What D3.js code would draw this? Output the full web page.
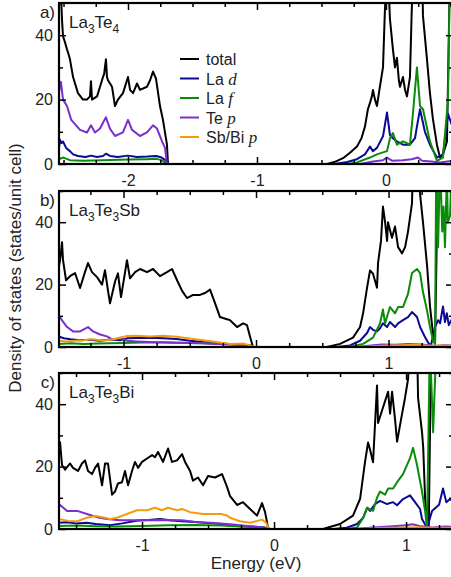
<!DOCTYPE html>
<html>
<head>
<meta charset="utf-8">
<script src="https://cdn.jsdelivr.net/npm/d3@7"></script>
<style>
body { margin: 0; background: #fff; }
text { font-family: "Liberation Sans", Arial, sans-serif; fill: #222; }
</style>
</head>
<body>
<div id="chart"></div>
<script>
// canvas
const WIDTH = 451;
const HEIGHT = 577;
const LEFT = 59;
const RIGHT = 452;

// series names / colours
const SERIES = ["total", "Lad", "Laf", "Tep", "Xp"];
const COLORS = {total: "#000000", Lad: "#0a0a96", Laf: "#0a8c0a", Tep: "#7b2fcc", Xp: "#f29c0f"};

// ---- panel a) La3Te4 : [energy eV, DOS] ----
const aTotal = [[-2.535,55],[-2.527,60],[-2.512,45],[-2.504,39.7],[-2.49,38],[-2.473,35.6],[-2.46,34],[-2.45,32.5],
  [-2.426,27],[-2.388,22],[-2.349,20],[-2.318,20],[-2.295,21],[-2.287,25.7],[-2.279,20],[-2.24,21],[-2.217,24],
  [-2.194,27],[-2.185,28],[-2.171,32.5],[-2.163,27],[-2.155,26],[-2.124,24],[-2.101,18],[-2.078,20],[-2.039,22],
  [-2.0,27],[-1.984,23],[-1.961,22],[-1.93,25],[-1.907,23],[-1.853,24],[-1.829,26],[-1.806,28.7],[-1.783,26.5],
  [-1.752,18],[-1.729,13.7],[-1.698,6],[-1.69,0],[-0.457,0],[-0.4,0.6],[-0.333,1.8],[-0.279,3.5],[-0.225,5.4],
  [-0.19,8],[-0.163,11.6],[-0.14,17],[-0.124,19],[-0.109,21],[-0.101,23],[-0.085,20],[-0.07,18],[-0.047,24],
  [-0.023,30],[-0.008,48],[0.008,60],[0.02,55],[0.031,45],[0.054,35.6],[0.07,30],[0.085,33],[0.1,26],[0.109,24],
  [0.132,27],[0.148,23],[0.163,21],[0.186,27],[0.198,45],[0.209,60],[0.28,60],[0.287,46],[0.318,32.5],[0.341,22],
  [0.364,14],[0.395,6],[0.419,2],[0.442,3],[0.473,7],[0.496,60],[0.512,60]];
const aLad = [[-2.535,5],[-2.527,7.5],[-2.515,6.5],[-2.504,7],[-2.48,5],[-2.45,4],[-2.426,3],[-2.388,2.5],[-2.33,2.2],
  [-2.287,2.6],[-2.24,2.2],[-2.194,2.5],[-2.171,3.2],[-2.14,2.5],[-2.08,2.2],[-2.0,2.6],[-1.93,2.2],[-1.85,2.3],
  [-1.78,2.5],[-1.74,2],[-1.71,1.2],[-1.69,0],[-0.4,0],[-0.3,0.6],[-0.225,1.5],[-0.163,3],[-0.124,5.4],[-0.101,4],
  [-0.07,5],[-0.023,8.6],[0.008,16],[0.031,9],[0.054,8],[0.085,7],[0.132,6],[0.186,6],[0.225,8],[0.24,11.6],
  [0.264,17],[0.302,10],[0.341,6],[0.395,2],[0.442,3],[0.481,15.6],[0.512,12]];
const aLaf = [[-2.535,1.5],[-2.5,2],[-2.45,1.2],[-2.35,1],[-2.2,1.2],[-2.0,1.4],[-1.85,1.5],[-1.78,1.6],[-1.74,1.2],
  [-1.7,0],[-0.3,0],[-0.225,0.5],[-0.124,2],[-0.07,3],[-0.023,3.6],[0.008,4],[0.031,8],[0.054,9.6],[0.085,6],
  [0.132,7],[0.186,6],[0.209,15.6],[0.24,30],[0.264,18],[0.287,17],[0.341,7],[0.395,1],[0.442,2],[0.481,20],
  [0.496,60],[0.512,60]];
const aTep = [[-2.535,22],[-2.527,24.7],[-2.52,25.5],[-2.504,20],[-2.473,18],[-2.44,13.7],[-2.372,10.6],[-2.318,9.8],
  [-2.287,12],[-2.256,9.8],[-2.217,11],[-2.194,12.8],[-2.171,14.5],[-2.14,11],[-2.101,8.7],[-2.039,9.8],[-2.0,13.7],
  [-1.969,10.6],[-1.907,8.7],[-1.853,9.8],[-1.806,12],[-1.775,11],[-1.736,7],[-1.713,5],[-1.698,0],[-0.2,0],
  [-0.1,0.8],[-0.023,1.2],[0.008,2],[0.05,1],[0.13,1.2],[0.2,1.5],[0.248,2],[0.28,1],[0.35,0.8],[0.42,0.5],[0.512,1]];

// ---- panel b) La3Te3Sb ----
const bTotal = [[-1.487,26],[-1.479,27.8],[-1.464,33.6],[-1.457,28],[-1.434,21.4],[-1.404,22.7],[-1.366,23.7],
  [-1.328,18.9],[-1.291,24],[-1.268,26.9],[-1.238,24],[-1.2,22.4],[-1.162,20],[-1.14,24.6],[-1.117,18],[-1.102,14],
  [-1.064,21],[-1.042,23.6],[-1.019,16],[-0.996,22],[-0.974,27.8],[-0.951,22],[-0.913,24],[-0.875,25],[-0.823,24],
  [-0.777,25],[-0.725,22.7],[-0.672,24],[-0.634,25],[-0.596,21.4],[-0.558,18],[-0.521,15.7],[-0.475,16.7],
  [-0.423,16.7],[-0.385,17.3],[-0.347,18.4],[-0.309,14],[-0.272,9.6],[-0.219,8.9],[-0.196,8.6],[-0.143,6.4],
  [-0.098,7.6],[-0.068,7],[-0.045,3.3],[-0.023,0],[0.536,0],[0.634,1],[0.732,3],[0.785,6.4],[0.808,10.8],[0.838,19],
  [0.86,24.5],[0.883,23.5],[0.913,19],[0.921,27],[0.943,34],[0.958,45],[0.974,40],[0.989,34],[0.996,40],[1.026,35],
  [1.049,38.6],[1.072,32],[1.102,30],[1.125,32],[1.147,37],[1.177,46],[1.185,60],[1.215,60],[1.238,49],[1.26,40],
  [1.291,26],[1.313,13],[1.336,4],[1.351,1],[1.366,40],[1.374,60],[1.479,60]];
const bLad = [[-1.487,3],[-1.479,3.2],[-1.45,2.8],[-1.4,2.5],[-1.33,2.2],[-1.25,2.3],[-1.18,2],[-1.1,2.4],[-1.02,2.2],
  [-0.97,2.8],[-0.9,2.9],[-0.8,3],[-0.7,2.8],[-0.6,2.6],[-0.5,2],[-0.4,1.6],[-0.3,1.3],[-0.2,1],[-0.1,0.8],
  [-0.04,0.5],[-0.02,0],[0.6,0],[0.709,0.5],[0.785,2],[0.838,4.5],[0.86,6.4],[0.883,5.5],[0.913,5],[0.936,6],
  [0.958,7.6],[0.989,6.4],[1.011,8],[1.049,6.4],[1.072,7.6],[1.109,8.6],[1.147,9.6],[1.177,11.2],[1.215,9.6],
  [1.238,6.4],[1.275,3.2],[1.305,1],[1.32,0.5],[1.351,6.4],[1.374,8.6],[1.389,7.6],[1.411,13],[1.426,8],
  [1.44,10.8],[1.455,7],[1.479,9]];
const bLaf = [[-1.487,1],[-1.4,1.2],[-1.3,1],[-1.2,1.1],[-1.0,1.3],[-0.8,1.5],[-0.6,1.4],[-0.4,1.2],[-0.2,0.8],
  [-0.05,0.5],[-0.02,0],[0.7,0],[0.808,1],[0.883,3],[0.936,7.6],[0.958,12],[0.974,7.6],[1.011,12.8],[1.049,10.8],
  [1.072,12.8],[1.109,12.8],[1.147,17],[1.177,23.7],[1.215,25],[1.238,23.7],[1.26,17.6],[1.291,11.6],[1.313,6.4],
  [1.336,2],[1.351,1],[1.36,60],[1.374,32],[1.389,60],[1.405,37],[1.415,45],[1.426,32],[1.44,55],[1.448,40],
  [1.464,42],[1.479,60]];
const bTep = [[-1.487,9],[-1.479,9.6],[-1.464,8.5],[-1.426,6.4],[-1.381,5],[-1.328,5],[-1.268,6.4],[-1.23,5],
  [-1.177,4],[-1.125,3.4],[-1.079,2.3],[-1.026,3],[-0.974,2],[-0.9,1.8],[-0.8,1.6],[-0.7,1.5],[-0.6,1.4],[-0.4,1.2],
  [-0.3,1],[-0.15,0.8],[-0.05,0.5],[-0.02,0],[0.75,0],[0.85,0.4],[0.95,0.8],[1.05,0.7],[1.15,1],[1.25,0.8],
  [1.35,0.3],[1.42,0.6],[1.479,0.5]];
const bSbp = [[-1.487,2],[-1.43,1.8],[-1.37,2],[-1.3,2.2],[-1.238,2.5],[-1.15,2.1],[-1.1,2.3],[-1.05,2.7],
  [-0.974,3.5],[-0.9,3.6],[-0.8,3.4],[-0.7,3.6],[-0.6,3.3],[-0.5,2.7],[-0.4,2.2],[-0.3,1.6],[-0.196,1],[-0.1,1.1],
  [-0.05,0.6],[-0.02,0],[0.8,0],[0.9,0.3],[1.0,0.5],[1.1,0.6],[1.2,0.7],[1.3,0.4],[1.4,0.5],[1.479,0.4]];

// ---- panel c) La3Te3Bi ----
const cTotal = [[-1.629,24],[-1.621,27.8],[-1.606,20.5],[-1.583,19],[-1.545,21],[-1.523,19.6],[-1.485,18.6],
  [-1.455,21],[-1.432,22],[-1.409,18.6],[-1.379,17.6],[-1.356,19.6],[-1.333,21],[-1.303,14],[-1.28,21],[-1.258,21],
  [-1.227,11],[-1.205,12],[-1.182,14.6],[-1.152,15],[-1.129,18.6],[-1.106,14],[-1.076,18.6],[-1.053,21.5],
  [-1.03,19.6],[-1.0,21.5],[-0.962,22.6],[-0.924,23.7],[-0.902,23],[-0.879,24.7],[-0.841,21.5],[-0.803,25.8],
  [-0.773,21.5],[-0.735,22],[-0.697,24],[-0.674,21.5],[-0.636,18.6],[-0.614,15.5],[-0.576,16.5],[-0.538,14],
  [-0.5,17],[-0.447,16.5],[-0.394,17.6],[-0.356,13.5],[-0.333,10.5],[-0.28,7.7],[-0.235,8.6],[-0.182,6.4],
  [-0.129,4.3],[-0.091,8.3],[-0.068,5.4],[-0.045,0.3],[-0.03,0],[0.371,0],[0.5,1.6],[0.598,4.3],[0.652,9.7],
  [0.689,21.4],[0.712,27.7],[0.727,25.5],[0.75,21.4],[0.78,46],[0.788,34],[0.818,38],[0.841,41],[0.864,44],
  [0.879,37],[0.894,44],[0.917,35],[0.932,28],[0.97,37],[0.992,42],[1.015,48],[1.03,60],[1.083,60],[1.091,42],
  [1.121,31],[1.13,26],[1.144,10],[1.159,1.6],[1.172,0.5],[1.19,60],[1.348,60]];
const cLad = [[-1.629,2],[-1.568,2.2],[-1.5,1.8],[-1.42,2],[-1.35,1.6],[-1.242,1.2],[-1.15,1.8],[-1.03,2.7],
  [-0.95,2.9],[-0.864,3.2],[-0.773,2.7],[-0.7,2.5],[-0.576,2.2],[-0.45,1.8],[-0.356,1.2],[-0.25,0.9],[-0.15,0.7],
  [-0.08,0.6],[-0.045,0.2],[-0.03,0],[0.45,0],[0.55,0.4],[0.629,1.6],[0.674,3.5],[0.705,6.8],[0.727,5.8],
  [0.765,8],[0.803,9],[0.856,8],[0.902,8.6],[0.932,7.6],[0.977,9.6],[1.03,10.8],[1.068,8.6],[1.106,6.4],
  [1.121,3.2],[1.159,0.3],[1.197,5.8],[1.25,7.8],[1.28,13],[1.305,8.6],[1.333,9.6],[1.348,9]];
const cLaf = [[-1.629,1],[-1.5,1.1],[-1.35,0.9],[-1.2,0.8],[-1.0,1],[-0.8,1.2],[-0.6,1.3],[-0.4,1.1],[-0.25,0.8],
  [-0.1,0.6],[-0.045,0.2],[-0.03,0],[0.55,0],[0.629,0.5],[0.674,3.5],[0.705,6.8],[0.75,5.8],[0.78,10],[0.803,12],
  [0.841,11],[0.864,13],[0.902,13],[0.932,15],[0.977,17.6],[1.03,22.7],[1.053,26],[1.083,20.5],[1.121,12],
  [1.144,5.8],[1.159,0.3],[1.18,60],[1.205,31],[1.23,60],[1.348,60]];
const cTep = [[-1.629,7],[-1.621,7.7],[-1.568,5.8],[-1.492,5.8],[-1.417,4.8],[-1.341,3.8],[-1.265,3.2],[-1.167,2.8],
  [-1.0,2.8],[-0.85,2.9],[-0.7,2.8],[-0.576,2.2],[-0.45,1.9],[-0.333,1.5],[-0.2,1],[-0.08,0.5],[-0.03,0],[0.6,0],
  [0.75,0.5],[0.9,0.9],[1.0,1.2],[1.05,1.5],[1.1,1],[1.2,0.5],[1.3,0.8],[1.348,0.7]];
const cBip = [[-1.629,3.2],[-1.56,2.6],[-1.49,2.5],[-1.42,3.6],[-1.35,4.2],[-1.3,3.8],[-1.242,3.2],[-1.19,3.6],
  [-1.114,4.8],[-1.038,6],[-0.962,6],[-0.902,6.8],[-0.85,6],[-0.803,6.8],[-0.735,6],[-0.697,6.4],[-0.636,5.4],
  [-0.538,4.8],[-0.4,4.8],[-0.356,4.3],[-0.333,3.6],[-0.258,2.5],[-0.182,2],[-0.091,3],[-0.06,2],[-0.045,0.5],
  [-0.03,0],[0.65,0],[0.8,0.3],[1.0,0.5],[1.1,0.6],[1.2,0.4],[1.348,0.4]];

// axis ticks
const Y_MAJOR = [0, 20, 40];
const Y_MINOR = [10, 30, 50];

// legend
const LEGEND = [["total", "total", ""], ["Lad", "La ", "d"], ["Laf", "La ", "f"], ["Tep", "Te ", "p"], ["Xp", "Sb/Bi ", "p"]];

// panels
const PANELS = [
  {tag: "a)", name: [["La", 0], ["3", 1], ["Te", 0], ["4", 1]], top: 3, bottom: 164,
   domain: [-2.535, 0.512], major: [-2, -1, 0],
   data: {total: aTotal, Lad: aLad, Laf: aLaf, Tep: aTep}},
  {tag: "b)", name: [["La", 0], ["3", 1], ["Te", 0], ["3", 1], ["Sb", 0]], top: 191, bottom: 347,
   domain: [-1.487, 1.479], major: [-1, 0, 1],
   data: {total: bTotal, Lad: bLad, Laf: bLaf, Tep: bTep, Xp: bSbp}},
  {tag: "c)", name: [["La", 0], ["3", 1], ["Te", 0], ["3", 1], ["Bi", 0]], top: 373, bottom: 529,
   domain: [-1.629, 1.348], major: [-1, 0, 1],
   data: {total: cTotal, Lad: cLad, Laf: cLaf, Tep: cTep, Xp: cBip}}
];

const svg = d3.select("#chart")
  .append("svg")
    .attr("width", WIDTH)
    .attr("height", HEIGHT);

PANELS.forEach((p, i) => {
  const x = d3.scaleLinear().domain(p.domain).range([LEFT, RIGHT]);
  const y = d3.scaleLinear().domain([0, 50]).range([p.bottom, p.top]);

  // minor x ticks every 0.25 eV
  const lo = Math.ceil(p.domain[0] * 4), hi = Math.floor(p.domain[1] * 4);
  const xMinor = d3.range(lo, hi + 1).map((k) => k / 4).filter((v) => !p.major.includes(v));

  const clipId = "clip" + i;
  svg.append("clipPath").attr("id", clipId)
    .append("rect")
      .attr("x", LEFT).attr("y", p.top)
      .attr("width", RIGHT - LEFT + 2).attr("height", p.bottom - p.top);

  // curves
  const line = d3.line()
    .x((d) => x(d[0]))
    .y((d) => y(d[1]));

  const g = svg.append("g").attr("clip-path", "url(#" + clipId + ")");
  SERIES.forEach((s) => {
    if (!p.data[s]) return;
    g.append("path")
      .datum(p.data[s])
      .attr("fill", "none")
      .attr("stroke", COLORS[s])
      .attr("stroke-width", 2)
      .attr("stroke-linejoin", "round")
      .attr("d", line);
  });

  // axes (inward ticks on all four sides)
  const fmt = (d) => String(d);
  svg.append("g")
    .attr("transform", "translate(0," + p.bottom + ")")
    .call(d3.axisBottom(x).tickValues(p.major).tickSize(-7).tickPadding(11).tickFormat(fmt));
  svg.append("g")
    .attr("transform", "translate(0," + p.bottom + ")")
    .call(d3.axisBottom(x).tickValues(xMinor).tickSize(-4).tickFormat(""));
  svg.append("g")
    .attr("transform", "translate(0," + p.top + ")")
    .call(d3.axisTop(x).tickValues(p.major).tickSize(-7).tickFormat(""));
  svg.append("g")
    .attr("transform", "translate(0," + p.top + ")")
    .call(d3.axisTop(x).tickValues(xMinor).tickSize(-4).tickFormat(""));

  svg.append("g")
    .attr("transform", "translate(" + LEFT + ",0)")
    .call(d3.axisLeft(y).tickValues(Y_MAJOR).tickSize(-7).tickPadding(6).tickFormat(fmt));
  svg.append("g")
    .attr("transform", "translate(" + LEFT + ",0)")
    .call(d3.axisLeft(y).tickValues(Y_MINOR).tickSize(-4).tickFormat(""));
  svg.append("g")
    .attr("transform", "translate(" + (RIGHT + 1) + ",0)")
    .call(d3.axisRight(y).tickValues(Y_MAJOR).tickSize(-7).tickFormat(""));
  svg.append("g")
    .attr("transform", "translate(" + (RIGHT + 1) + ",0)")
    .call(d3.axisRight(y).tickValues(Y_MINOR).tickSize(-4).tickFormat(""));

  svg.selectAll(".domain").remove();
  svg.selectAll(".tick line").attr("stroke", "#000").attr("stroke-width", 1.5);
  svg.selectAll(".tick text")
    .attr("font-size", 16)
    .attr("font-family", "'Liberation Sans', Arial, sans-serif")
    .attr("fill", "#222");

  // frame
  svg.append("rect")
    .attr("x", LEFT).attr("y", p.top)
    .attr("width", RIGHT + 1 - LEFT).attr("height", p.bottom - p.top)
    .attr("fill", "none")
    .attr("stroke", "#000")
    .attr("stroke-width", 2.2);

  // panel tag and compound
  svg.append("text")
    .attr("x", 55).attr("y", p.top + 15)
    .attr("text-anchor", "end")
    .attr("font-size", 17)
    .text(p.tag);

  const t = svg.append("text")
    .attr("x", 69).attr("y", p.top + 25)
    .attr("font-size", 17);
  let sub = 0;
  p.name.forEach((part) => {
    const dy = part[1] - sub;
    t.append("tspan")
      .attr("dy", dy * 5)
      .attr("font-size", part[1] ? 12 : 17)
      .text(part[0]);
    sub = part[1];
  });
});

// legend (panel a)
const lg = svg.append("g").attr("transform", "translate(180,59)");
LEGEND.forEach((d, k) => {
  const row = lg.append("g").attr("transform", "translate(0," + (k * 19.5) + ")");
  row.append("line")
    .attr("x1", 0).attr("x2", 19)
    .attr("stroke", COLORS[d[0]])
    .attr("stroke-width", 2);
  const tx = row.append("text")
    .attr("x", 26).attr("y", 6)
    .attr("font-size", 16)
    .text(d[1]);
  if (d[2]) {
    tx.append("tspan")
      .attr("font-family", "'Liberation Serif', 'Times New Roman', serif")
      .attr("font-style", "italic")
      .attr("font-size", 17)
      .text(d[2]);
  }
});

// axis titles
svg.append("text")
  .attr("x", 256).attr("y", 569)
  .attr("text-anchor", "middle")
  .attr("font-size", 17)
  .text("Energy (eV)");

svg.append("text")
  .attr("transform", "translate(21,268) rotate(-90)")
  .attr("text-anchor", "middle")
  .attr("font-size", 17)
  .text("Density of states (states/unit cell)");
</script>
</body>
</html>
